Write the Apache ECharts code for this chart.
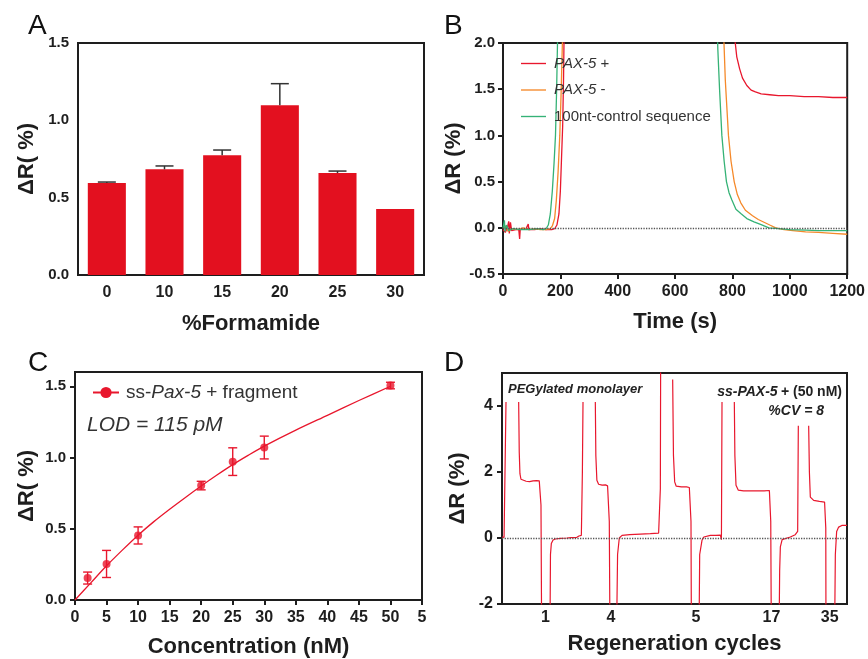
<!DOCTYPE html>
<html lang="en">
<head>
    <meta charset="utf-8" />
    <title>Formamide / PAX-5 detection</title>
    <script src="https://cdn.jsdelivr.net/npm/echarts@6/dist/echarts.min.js"></script>
    <style>
        html, body { margin: 0; padding: 0; background: #fff; }
        #main { width: 868px; height: 659px; }
    </style>
</head>
<body>
<div id="main"></div>
<script type="text/javascript">
    // panel A: formamide screen
    let aCats = ['0', '10', '15', '20', '25', '30']
    let aValues = [0.595, 0.683, 0.774, 1.097, 0.659, 0.427]
    let aErr = [0.006, 0.022, 0.034, 0.14, 0.013, 0]

    // panel B: SPRi sensorgrams [time s, dR %]
    let bPlus = [[0,-0.02],[8,-0.05],[15,0.0],[20,0.07],[22,-0.06],[26,0.06],[30,-0.03],[45,-0.02],[55,-0.02],[58,-0.12],[60,-0.02],[80,-0.01],[88,0.04],[90,-0.02],[110,-0.02],[130,-0.01],[150,-0.02],[170,-0.02],[180,-0.01],[188,0.03],[195,0.15],[200,0.4],[204,0.75],[208,1.1],[211,1.6],[213,2.1],[215,3],[800,3],[808,2.05],[815,1.85],[825,1.72],[835,1.62],[850,1.54],[865,1.49],[880,1.47],[900,1.45],[930,1.44],[960,1.43],[1000,1.43],[1050,1.42],[1100,1.42],[1150,1.41],[1200,1.41]]
    let bMinus = [[0,-0.01],[10,0.02],[18,-0.04],[30,-0.01],[50,-0.02],[70,0.0],[90,-0.02],[110,-0.01],[130,-0.02],[150,-0.02],[165,-0.01],[172,0.02],[180,0.1],[186,0.3],[192,0.6],[198,1.0],[203,1.5],[207,2.0],[210,3],[760,3],[771,1.95],[775,1.6],[779,1.38],[786,1.0],[795,0.72],[806,0.5],[817,0.36],[829,0.27],[845,0.19],[870,0.13],[890,0.09],[910,0.06],[930,0.03],[951,0.0],[980,-0.02],[1010,-0.03],[1055,-0.045],[1100,-0.05],[1150,-0.06],[1200,-0.07]]
    let bControl = [[0,0.0],[5,0.08],[7,-0.04],[12,0.03],[20,-0.03],[35,-0.01],[60,-0.02],[90,-0.02],[120,-0.01],[140,-0.02],[150,-0.01],[158,0.03],[165,0.15],[172,0.4],[178,0.7],[183,1.0],[187,1.5],[190,2.0],[193,3],[740,3],[749,1.93],[755,1.5],[763,1.0],[771,0.72],[779,0.5],[788,0.38],[798,0.3],[812,0.2],[829,0.155],[850,0.1],[875,0.065],[900,0.035],[927,0.0],[960,-0.01],[1000,-0.02],[1055,-0.025],[1100,-0.03],[1150,-0.03],[1200,-0.03]]

    // panel C: calibration
    let cConc = [2, 5, 10, 20, 25, 30, 50]
    let cValues = [0.154, 0.253, 0.453, 0.803, 0.971, 1.07, 1.505]
    let cErr = [0.042, 0.095, 0.06, 0.03, 0.097, 0.08, 0.023]
    let cFitX = [0, 2.5, 5, 7.5, 10, 12.5, 15, 17.5, 20, 22.5, 25, 27.5, 30, 35, 40, 45, 50]
    let cFitY = [0, 0.12, 0.24, 0.35, 0.455, 0.55, 0.637, 0.72, 0.80, 0.877, 0.95, 1.017, 1.08, 1.192, 1.296, 1.40, 1.50]

    // panel D: regeneration trace [position, dR %]
    let dTrace = [[0,0.03],[0.6,0.02],[1.0,0.05],[1.16,4.12],[1.2,null],
        [4.83,4.12],[5.0,2.6],[5.2,1.95],[5.5,1.78],[6.0,1.72],[7,1.72],[8,1.71],[9,1.73],[10,1.74],[10.8,1.73],[11.1,1.70],[11.3,1.0],[11.5,-3],[13.9,-3],[14.05,-0.5],[14.3,-0.17],[14.8,-0.06],[15.5,-0.03],[17,-0.01],[18.8,0.0],[20,0.01],[21.7,0.02],[22.3,0.06],[22.7,0.04],[23.0,0.08],[23.3,2.0],[23.48,4.12],[23.6,null],
        [27.05,4.12],[27.2,2.5],[27.5,1.75],[28,1.63],[29,1.6],[30,1.61],[30.6,1.58],[30.92,1.55],[31.1,0.5],[31.3,-3],[33.2,-3],[33.5,-0.5],[34.0,0.0],[34.8,0.08],[37,0.1],[40.1,0.12],[43,0.13],[45.4,0.15],[45.7,0.2],[45.9,1.5],[46.0,6],[46.2,null],
        [49.47,4.8],[49.7,2.5],[50.05,1.7],[50.5,1.57],[52,1.55],[53.5,1.55],[54.3,1.53],[54.59,1.5],[54.78,0.5],[54.9,-3],[57.1,-3],[57.3,-0.5],[57.97,-0.07],[58.5,0.03],[58.94,0.06],[60.4,0.08],[62,0.08],[63.3,0.09],[63.6,-0.05],[63.77,4.12],[63.9,null],
        [67.34,4.12],[67.5,2.5],[67.83,1.6],[68.5,1.45],[70,1.43],[73,1.43],[76,1.43],[77.5,1.44],[77.78,1.42],[77.9,0.5],[78.07,-3],[80.3,-3],[80.48,-1.0],[80.68,-0.27],[81.2,-0.05],[81.64,0.01],[83.57,0.03],[85.0,0.1],[85.5,0.12],[85.7,0.2],[85.89,3.4],[86.0,null],
        [88.89,3.4],[89.1,2.0],[89.37,1.24],[90.34,1.14],[92,1.11],[93.5,1.09],[93.72,1.05],[93.85,0.3],[93.91,-3],[96.4,-3],[96.62,-0.5],[97.0,0.2],[97.58,0.33],[98.5,0.38],[100,0.38]]
    let dCyclePos = [12.56, 31.6, 56.2, 78.1, 95.0]
    let dCycleNames = ['1', '4', '5', '17', '35']

    let fontMain = "'Liberation Sans', Arial, sans-serif"
    let colorAxis = '#1e1e1e'
    let colorBar = '#e3101f'
    let colorRed = '#e8172d'
    let colorOrange = '#f5892a'
    let colorGreen = '#35b276'
    let lineIcon = 'path://M0,0 L24,0 L24,1.3 L0,1.3 Z'

    let myChart = echarts.init(document.getElementById('main'), null, { renderer: 'canvas' });

    const baseAxis = (extra) => Object.assign({
        axisLine: { onZero: false, lineStyle: { color: colorAxis, width: 2 } },
        axisTick: { length: 5, lineStyle: { color: colorAxis, width: 2 } },
        splitLine: { show: false },
        axisLabel: { color: colorAxis, fontFamily: fontMain, fontWeight: 'bold', fontSize: 15, margin: 9 },
        nameLocation: 'middle',
        nameTextStyle: { color: colorAxis, fontFamily: fontMain, fontWeight: 'bold', fontSize: 22 },
    }, extra)

    const fixed1 = (v) => v.toFixed(1)

    let panelGrid = (left, top, width, height) => ({
        left: left, top: top, width: width, height: height,
        show: true, borderColor: colorAxis, borderWidth: 2, backgroundColor: 'transparent',
    })

    myChart.setOption({
        animation: false,
        textStyle: { fontFamily: fontMain },
        grid: [
            panelGrid(78, 43, 346, 232),
            panelGrid(503, 43, 345, 231),
            panelGrid(75, 372, 347, 232),
            panelGrid(502, 373, 345, 231),
        ],
        xAxis: [
            baseAxis({
                gridIndex: 0, type: 'category', data: aCats,
                axisTick: { alignWithLabel: true, length: 5, lineStyle: { color: colorAxis, width: 2 } },
                axisLabel: { color: colorAxis, fontFamily: fontMain, fontWeight: 'bold', fontSize: 16, margin: 10 },
                name: '%Formamide', nameGap: 38,
            }),
            baseAxis({
                gridIndex: 1, type: 'value', min: 0, max: 1200, interval: 200,
                axisLabel: { color: colorAxis, fontFamily: fontMain, fontWeight: 'bold', fontSize: 16, margin: 10, formatter: (v) => String(v) },
                name: 'Time (s)', nameGap: 37,
            }),
            baseAxis({
                gridIndex: 2, type: 'value', min: 0, max: 55, interval: 5,
                axisLabel: {
                    color: colorAxis, fontFamily: fontMain, fontWeight: 'bold', fontSize: 16, margin: 10,
                    formatter: (v) => v === 55 ? '5' : String(v),
                },
                name: 'Concentration (nM)', nameGap: 36,
            }),
            baseAxis({
                gridIndex: 3, type: 'value', min: 0, max: 100,
                axisTick: { show: false },
                axisLabel: {
                    color: colorAxis, fontFamily: fontMain, fontWeight: 'bold', fontSize: 16, margin: 6,
                    customValues: dCyclePos,
                    formatter: (v) => {
                        let i = dCyclePos.findIndex((p) => Math.abs(p - v) < 0.01)
                        return i >= 0 ? dCycleNames[i] : ''
                    },
                },
                name: 'Regeneration cycles', nameGap: 29,
            }),
        ],
        yAxis: [
            baseAxis({
                gridIndex: 0, type: 'value', min: 0, max: 1.5, interval: 0.5,
                axisLabel: { color: colorAxis, fontFamily: fontMain, fontWeight: 'bold', fontSize: 15, margin: 9, formatter: fixed1 },
                name: 'ΔR( %)', nameGap: 40,
            }),
            baseAxis({
                gridIndex: 1, type: 'value', min: -0.5, max: 2.0, interval: 0.5,
                axisLabel: { color: colorAxis, fontFamily: fontMain, fontWeight: 'bold', fontSize: 15, margin: 8, formatter: fixed1 },
                name: 'ΔR (%)', nameGap: 32,
            }),
            baseAxis({
                gridIndex: 2, type: 'value', min: 0, max: 1.6, interval: 0.5,
                axisLabel: { color: colorAxis, fontFamily: fontMain, fontWeight: 'bold', fontSize: 15, margin: 9, formatter: fixed1, showMaxLabel: false },
                name: 'ΔR( %)', nameGap: 37,
            }),
            baseAxis({
                gridIndex: 3, type: 'value', min: -2, max: 5, interval: 2,
                axisLabel: { color: colorAxis, fontFamily: fontMain, fontWeight: 'bold', fontSize: 16, margin: 9, showMaxLabel: false },
                name: 'ΔR (%)', nameGap: 33,
            }),
        ],
        legend: [
            {
                data: [
                    { name: 'PAX-5 +', icon: lineIcon },
                    { name: 'PAX-5 -', icon: lineIcon },
                    { name: '100nt-control sequence', icon: lineIcon },
                ],
                orient: 'vertical', left: 516, top: 51,
                itemWidth: 25, itemHeight: 14, itemGap: 11.5,
                formatter: (name) => name.startsWith('PAX') ? '{i|' + name.slice(0, 5) + '}{n|' + name.slice(5) + '}' : '{n|' + name + '}',
                textStyle: {
                    padding: [0, 0, 0, 3],
                    rich: {
                        i: { fontStyle: 'italic', fontSize: 15, color: '#333', fontFamily: fontMain },
                        n: { fontSize: 15, color: '#333', fontFamily: fontMain },
                    }
                },
            },
            {
                data: ['ss-Pax-5 + fragment'],
                left: 87, top: 378,
                itemWidth: 26, itemHeight: 14,
                formatter: () => '{n|ss-}{i|Pax-5}{n| + fragment}',
                textStyle: {
                    padding: [0, 0, 0, 2],
                    rich: {
                        i: { fontStyle: 'italic', fontSize: 19, color: '#333', fontFamily: fontMain },
                        n: { fontSize: 19, color: '#333', fontFamily: fontMain },
                    }
                },
            },
        ],
        graphic: [
            { type: 'text', x: 28, y: 12, style: { text: 'A', font: '28px ' + fontMain, fill: '#111' } },
            { type: 'text', x: 444, y: 12, style: { text: 'B', font: '28px ' + fontMain, fill: '#111' } },
            { type: 'text', x: 28, y: 349, style: { text: 'C', font: '28px ' + fontMain, fill: '#111' } },
            { type: 'text', x: 444, y: 349, style: { text: 'D', font: '28px ' + fontMain, fill: '#111' } },
            { type: 'text', x: 87, y: 425, style: { text: 'LOD = 115 pM', font: 'italic 21px ' + fontMain, fill: '#333', verticalAlign: 'middle' } },
            { type: 'text', x: 508, y: 389, style: { text: 'PEGylated monolayer', font: 'italic bold 13px ' + fontMain, fill: '#222', verticalAlign: 'middle' } },
            {
                type: 'text', x: 842, y: 392,
                style: {
                    text: '{i|ss-PAX-5} {b|+ (50 nM)}', align: 'right', verticalAlign: 'middle',
                    rich: {
                        i: { font: 'italic bold 14px ' + fontMain, fill: '#222' },
                        b: { font: 'bold 14px ' + fontMain, fill: '#222' },
                    }
                }
            },
            { type: 'text', x: 824, y: 411, style: { text: '%CV = 8', font: 'italic bold 14px ' + fontMain, fill: '#222', align: 'right', verticalAlign: 'middle' } },
        ],
        series: [
            {
                type: 'bar', xAxisIndex: 0, yAxisIndex: 0,
                data: aValues, barCategoryGap: '34%',
                itemStyle: { color: colorBar },
            },
            {
                type: 'custom', xAxisIndex: 0, yAxisIndex: 0, z: 5,
                data: aValues.map((v, i) => [i, v, aErr[i]]),
                renderItem: function (params, api) {
                    let err = api.value(2)
                    if (!err) return null
                    let base = api.coord([api.value(0), api.value(1)])
                    let top = api.coord([api.value(0), api.value(1) + err])
                    let st = { stroke: '#333', lineWidth: 1.5 }
                    return {
                        type: 'group',
                        children: [
                            { type: 'line', shape: { x1: base[0], y1: base[1], x2: top[0], y2: top[1] }, style: st },
                            { type: 'line', shape: { x1: top[0] - 9, y1: top[1], x2: top[0] + 9, y2: top[1] }, style: st },
                        ]
                    }
                },
            },
            {
                name: 'PAX-5 +', type: 'line', xAxisIndex: 1, yAxisIndex: 1,
                data: bPlus, symbol: 'none', color: colorRed,
                lineStyle: { width: 1.3 },
                markLine: {
                    silent: true, symbol: 'none', label: { show: false },
                    lineStyle: { type: 'dotted', color: '#555', width: 1.3 },
                    data: [{ yAxis: 0 }],
                },
            },
            {
                name: 'PAX-5 -', type: 'line', xAxisIndex: 1, yAxisIndex: 1,
                data: bMinus, symbol: 'none', color: colorOrange,
                lineStyle: { width: 1.3 },
            },
            {
                name: '100nt-control sequence', type: 'line', xAxisIndex: 1, yAxisIndex: 1,
                data: bControl, symbol: 'none', color: colorGreen,
                lineStyle: { width: 1.3 },
            },
            {
                name: 'ss-Pax-5 + fragment', type: 'line', xAxisIndex: 2, yAxisIndex: 2,
                data: cFitX.map((x, i) => [x, cFitY[i]]), smooth: 0.3,
                symbol: 'circle', symbolSize: 8, showSymbol: false,
                color: colorRed, lineStyle: { width: 1.3 },
            },
            {
                type: 'custom', xAxisIndex: 2, yAxisIndex: 2, z: 4,
                data: cConc.map((x, i) => [x, cValues[i], cErr[i]]),
                renderItem: function (params, api) {
                    let x = api.value(0), y = api.value(1), e = api.value(2)
                    let lo = api.coord([x, y - e])
                    let hi = api.coord([x, y + e])
                    let st = { stroke: colorRed, lineWidth: 1.4 }
                    return {
                        type: 'group',
                        children: [
                            { type: 'line', shape: { x1: lo[0], y1: lo[1], x2: hi[0], y2: hi[1] }, style: st },
                            { type: 'line', shape: { x1: hi[0] - 4.5, y1: hi[1], x2: hi[0] + 4.5, y2: hi[1] }, style: st },
                            { type: 'line', shape: { x1: lo[0] - 4.5, y1: lo[1], x2: lo[0] + 4.5, y2: lo[1] }, style: st },
                        ]
                    }
                },
            },
            {
                type: 'scatter', xAxisIndex: 2, yAxisIndex: 2, z: 5,
                data: cConc.map((x, i) => [x, cValues[i]]),
                symbol: 'circle', symbolSize: 8, itemStyle: { color: colorRed },
            },
            {
                type: 'line', xAxisIndex: 3, yAxisIndex: 3,
                data: dTrace, symbol: 'none', connectNulls: false,
                color: colorRed, lineStyle: { width: 1.2 },
                markLine: {
                    silent: true, symbol: 'none', label: { show: false },
                    lineStyle: { type: 'dotted', color: '#555', width: 1.3 },
                    data: [{ yAxis: 0 }],
                },
            },
        ]
    });
</script>
</body>
</html>
